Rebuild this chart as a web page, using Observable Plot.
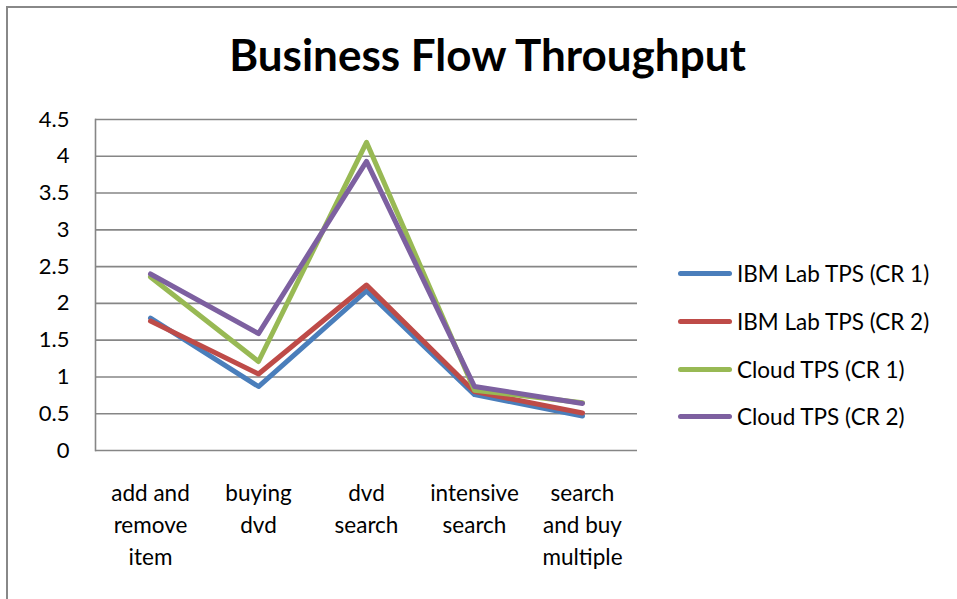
<!DOCTYPE html>
<html>
<head>
<meta charset="utf-8">
<script src="https://cdn.jsdelivr.net/npm/d3@7"></script>
<script src="https://cdn.jsdelivr.net/npm/@observablehq/plot@0.6"></script>
<style>
  html, body { margin: 0; padding: 0; background: #fff; }
  body { width: 957px; height: 599px; position: relative; overflow: hidden; font-family: Lato, "Open Sans", sans-serif; }
  #border { position: absolute; left: 6px; top: 6px; width: 960px; height: 700px; border-left: 2px solid #888; border-top: 2px solid #888; box-sizing: border-box; }
  #title { position: absolute; left: 0; width: 975px; top: 28px; text-align: center; font-size: 44px; font-weight: bold; color: #000; }
  #chart { position: absolute; left: 0; top: 0; }
  #legend { position: absolute; left: 678px; top: 250px; font-size: 22.5px; color: #000; }
  .row { height: 47.7px; display: flex; align-items: center; }
  .sw { width: 54px; height: 5px; border-radius: 3px; margin-right: 5px; }
</style>
</head>
<body>
<div id="border"></div>
<div id="chart"></div>
<div id="title">Business Flow Throughput</div>
<div id="legend"></div>
<script>
const categories = ["add and remove item", "buying dvd", "dvd search", "intensive search", "search and buy multiple"];
const categoryLabels = ["add and\nremove\nitem", "buying\ndvd", "dvd\nsearch", "intensive\nsearch", "search\nand buy\nmultiple"];
const seriesNames = ["IBM Lab TPS (CR 1)", "IBM Lab TPS (CR 2)", "Cloud TPS (CR 1)", "Cloud TPS (CR 2)"];
const seriesColors = ["#4a7ebb", "#be4b48", "#98b954", "#7d60a0"];
const ibmCR1 = [1.80, 0.87, 2.17, 0.76, 0.47];
const ibmCR2 = [1.76, 1.04, 2.25, 0.80, 0.51];
const cloudCR1 = [2.36, 1.21, 4.19, 0.82, 0.65];
const cloudCR2 = [2.40, 1.59, 3.93, 0.87, 0.64];
const yTicks = [0, 0.5, 1, 1.5, 2, 2.5, 3, 3.5, 4, 4.5];

const seriesValues = [ibmCR1, ibmCR2, cloudCR1, cloudCR2];
const data = [];
seriesValues.forEach((vals, s) => vals.forEach((v, i) => data.push({series: seriesNames[s], category: categories[i], value: v})));
const labelOf = new Map(categories.map((c, i) => [c, categoryLabels[i]]));

const chart = Plot.plot({
  width: 957,
  height: 599,
  marginLeft: 95,
  marginRight: 320,
  marginTop: 119,
  marginBottom: 149,
  style: {fontFamily: "Lato, 'Open Sans', sans-serif", background: "transparent", overflow: "visible"},
  x: {type: "point", domain: categories, padding: 0.5, label: null},
  y: {domain: [0, 4.5], label: null},
  color: {domain: seriesNames, range: seriesColors},
  marks: [
    Plot.ruleY(yTicks, {stroke: "#868686", strokeWidth: 1.6, strokeOpacity: 1}),
    Plot.frame({anchor: "left", stroke: "#868686", strokeWidth: 1.6, strokeOpacity: 1}),
    Plot.axisY({ticks: yTicks, tickSize: 0, tickPadding: 26, fontSize: 22, tickFormat: d => String(d), fill: "#000", label: null}),
    Plot.axisX({tickSize: 0, tickPadding: 28, fontSize: 22.5, lineHeight: 1.42, tickFormat: d => labelOf.get(d), fill: "#000", label: null}),
    Plot.line(data, {x: "category", y: "value", z: "series", stroke: "series", strokeWidth: 5, strokeLinejoin: "round", strokeLinecap: "round"})
  ]
});
document.getElementById("chart").appendChild(chart);

const legend = document.getElementById("legend");
seriesNames.forEach((name, i) => {
  const row = document.createElement("div");
  row.className = "row";
  const sw = document.createElement("div");
  sw.className = "sw";
  sw.style.background = seriesColors[i];
  const t = document.createElement("span");
  t.textContent = name;
  row.appendChild(sw);
  row.appendChild(t);
  legend.appendChild(row);
});
</script>
</body>
</html>
